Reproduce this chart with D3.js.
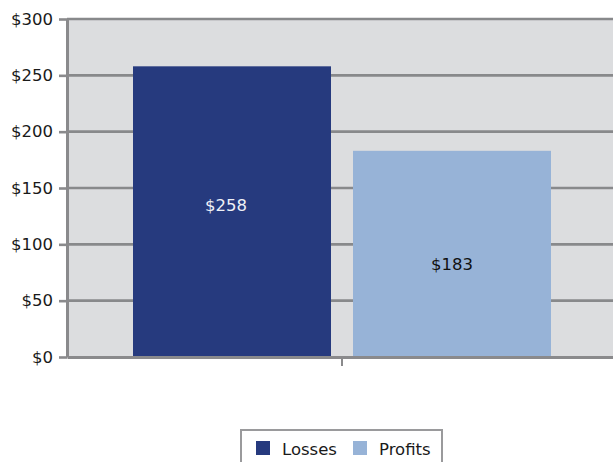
<!DOCTYPE html>
<html>
<head>
<meta charset="utf-8">
<script src="https://cdn.jsdelivr.net/npm/d3@7"></script>
<style>
  html, body { margin: 0; padding: 0; background: #fff; overflow: hidden; }
  svg { display: block; }
  text { font-family: "DejaVu Sans", sans-serif; }
</style>
</head>
<body>
<svg id="chart" width="613" height="462"></svg>
<script>
// Chart data
const categories = [""];
const seriesNames = ["Losses", "Profits"];
const seriesValues = [258, 183];
const yTicks = [0, 50, 100, 150, 200, 250, 300];

const colors = { Losses: "#263a7e", Profits: "#97b3d7" };
const labelColors = { Losses: "#eef0f6", Profits: "#111" };
// vertical offset of each value label from the middle of its bar (px)
const labelShift = { Losses: -7, Profits: 10 };

const svg = d3.select("#chart");
const plot = { left: 67, top: 19, right: 617, bottom: 357 };

const y = d3.scaleLinear().domain([0, 300]).range([plot.bottom, plot.top]);
const x0 = d3.scaleBand().domain(categories).range([plot.left, plot.right]).padding(0);
const x1 = d3.scaleBand().domain(seriesNames).range([0, x0.bandwidth()])
  .paddingInner(0.1).paddingOuter(0.3);

// plot background
svg.append("rect")
  .attr("x", plot.left).attr("y", plot.top)
  .attr("width", plot.right - plot.left).attr("height", plot.bottom - plot.top)
  .attr("fill", "#dcdddf");

// gridlines
svg.append("g").selectAll("line").data(yTicks.filter(d => d > 0)).join("line")
  .attr("x1", plot.left).attr("x2", plot.right)
  .attr("y1", d => y(d)).attr("y2", d => y(d))
  .attr("stroke", "#88898b").attr("stroke-width", 2.6);

// bars
const rows = seriesNames.map((s, i) => ({ name: s, value: seriesValues[i], cat: categories[0] }));
svg.append("g").selectAll("rect").data(rows).join("rect")
  .attr("x", d => x0(d.cat) + x1(d.name))
  .attr("y", d => y(d.value))
  .attr("width", x1.bandwidth())
  .attr("height", d => y(0) - y(d.value))
  .attr("fill", d => colors[d.name]);

// value labels
svg.append("g").selectAll("text").data(rows).join("text")
  .attr("x", d => x0(d.cat) + x1(d.name) + x1.bandwidth() / 2 - (d.name === "Losses" ? 6 : 0))
  .attr("y", d => y(d.value / 2) + labelShift[d.name])
  .attr("dy", "0.36em")
  .attr("text-anchor", "middle")
  .attr("font-size", 16.5)
  .attr("fill", d => labelColors[d.name])
  .text(d => "$" + d.value);

// y axis
const yAxis = d3.axisLeft(y).tickValues(yTicks).tickSizeInner(8).tickSizeOuter(0).tickPadding(6)
  .tickFormat(d => "$" + d);
const gy = svg.append("g").attr("transform", `translate(${plot.left},0)`).call(yAxis);
gy.select(".domain").attr("stroke", "#8a8a8c").attr("stroke-width", 3);
gy.selectAll(".tick line").attr("stroke", "#8a8a8c").attr("stroke-width", 2.6);
gy.selectAll(".tick text")
  .attr("font-size", 16.5).attr("fill", "#1a1a1a")
  .attr("font-family", "DejaVu Sans, sans-serif");

// x axis
const xAxis = d3.axisBottom(x0).tickSizeInner(9).tickSizeOuter(0).tickFormat(() => "");
const gx = svg.append("g").attr("transform", `translate(0,${plot.bottom})`).call(xAxis);
gx.select(".domain").attr("stroke", "#8a8a8c").attr("stroke-width", 3);
gx.selectAll(".tick line").attr("stroke", "#8a8a8c").attr("stroke-width", 2);

// legend
const legend = svg.append("g");
legend.append("rect")
  .attr("x", 241).attr("y", 430).attr("width", 201).attr("height", 40)
  .attr("fill", "#fff").attr("stroke", "#9a9a9c").attr("stroke-width", 2);
const legendX = { Losses: 256, Profits: 353 };
const items = legend.selectAll("g.item").data(seriesNames).join("g")
  .attr("class", "item")
  .attr("transform", d => `translate(${legendX[d]},441)`);
items.append("rect").attr("width", 14).attr("height", 14).attr("fill", d => colors[d]);
items.append("text")
  .attr("x", 26).attr("y", 14)
  .attr("font-size", 16.5).attr("fill", "#1a1a1a")
  .text(d => d);
</script>
</body>
</html>
